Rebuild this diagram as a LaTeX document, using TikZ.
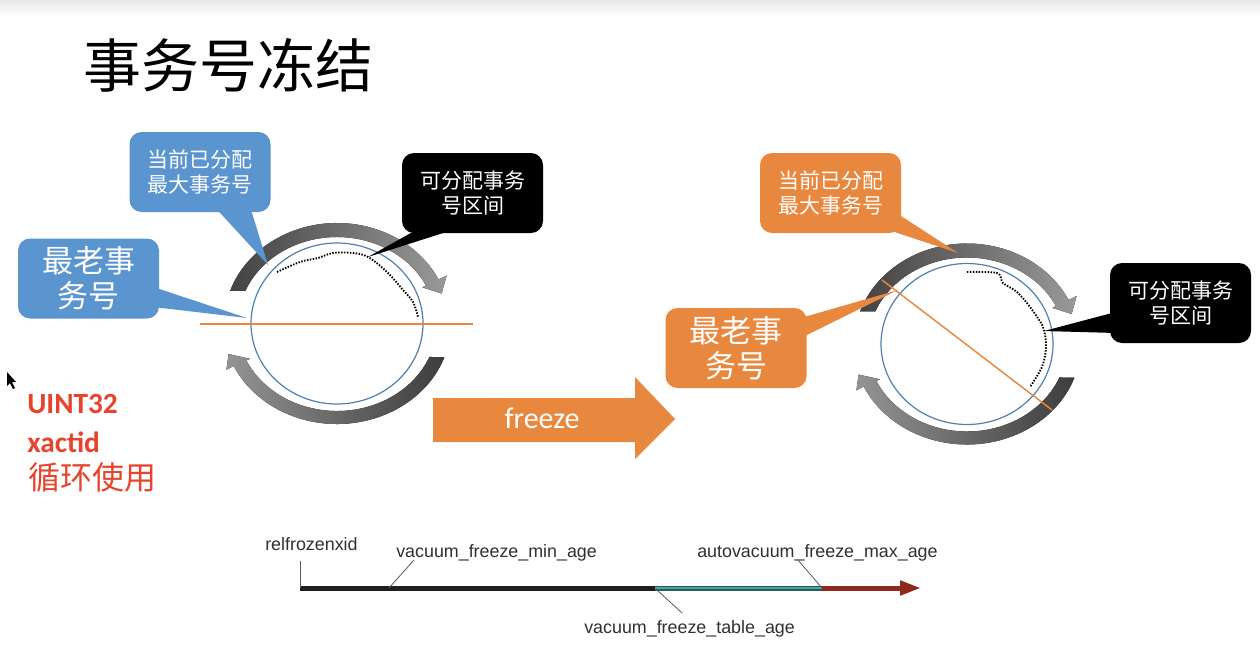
\documentclass[tikz,border=0pt]{standalone}
\usepackage{fontspec}
\setmainfont{Liberation Sans}
\newfontfamily\cjkfont{Noto Sans CJK SC}
\newfontfamily\calibfont{Carlito}
\usetikzlibrary{calc,arrows.meta}

\definecolor{boxblue}{HTML}{5B95CF}
\definecolor{boxorange}{HTML}{E8873E}
\definecolor{ringblue}{HTML}{4F80B0}
\definecolor{alertred}{HTML}{E8442D}
\definecolor{tealbar}{HTML}{4AA3A6}
\definecolor{rustbar}{HTML}{8E2A1A}
\definecolor{labelgray}{HTML}{303030}

\tikzset{
  callbox/.style={rounded corners=9pt, minimum width=105.75pt, minimum height=60pt,
    inner sep=0pt, text=white, align=center},
  smalltext/.style={font=\cjkfont\fontsize{15.75pt}{18.75pt}\selectfont},
  bigtext/.style={font=\cjkfont\fontsize{23.25pt}{26.25pt}\selectfont},
  ring/.style={draw=ringblue, line width=0.9pt},
  cutline/.style={draw=boxorange, line width=1.1pt},
  freespan/.style={line width=1.4pt, dash pattern=on 1.1pt off 1.1pt},
  axislabel/.style={font=\fontsize{13.4pt}{16pt}\selectfont, text=labelgray,
    inner sep=0pt, anchor=base west},
  leader/.style={draw=labelgray!80, line width=0.6pt},
  alertbold/.style={font=\calibfont\bfseries\fontsize{22pt}{24pt}\selectfont,
    text=alertred, inner sep=0pt, anchor=base west},
}

% the two curved grey arrows around a wheel (drawn with y pointing up)
\newcommand\cyclearrows{%
  \fill[left color=black!74, right color=black!40]
    (161:113 and 100.5) arc[start angle=161, end angle=26, x radius=113, y radius=100.5]
    -- (26:122 and 109.5) -- (18:110 and 97) -- (26:95 and 82.5) -- (26:99 and 86.5)
    arc[start angle=26, end angle=157.8, x radius=99, y radius=86.5] -- cycle;
  \fill[left color=black!42, right color=black!76]
    (-19.5:114 and 100.5) arc[start angle=-19.5, end angle=-155, x radius=114, y radius=100.5]
    -- (-155:122 and 109.5) -- (-162:114 and 99) -- (-155:96 and 83.5) -- (-155:100 and 87.5)
    arc[start angle=-155, end angle=-22.5, x radius=100, y radius=87.5] -- cycle;
}

\begin{document}
\begin{tikzpicture}[x=0.75pt, y=-0.75pt]
\useasboundingbox (0,0) rectangle (1260,668);
\fill[white] (0,0) rectangle (1260,668);
\shade[top color=black!9, bottom color=white] (0,0) rectangle (1260,16);

% title
\node[font=\cjkfont\fontsize{43.5pt}{50pt}\selectfont, inner sep=0pt] (title) at (228,65) {事务号冻结};

% ---------- left wheel ----------
\coordinate (lc) at (337,323.5);
\begin{scope}[shift={(lc)}, y=0.75pt]
  \cyclearrows
\end{scope}
\draw[ring] (lc) ellipse[x radius=86, y radius=80.5];
\coordinate (lcutA) at (200,324);
\coordinate (lcutB) at (473,324);
\draw[cutline] (lcutA) -- (lcutB);
\draw[freespan] plot[smooth, tension=0.6] coordinates
  {(277,272) (300,262) (318,258) (333,253) (353,253) (368,257) (387,272) (403,290) (413,302) (418,317)};

% callouts of the left wheel
\node[callbox, fill=boxblue, smalltext] (lmax) at (200,172) {当前已分配\\最大事务号};
\coordinate (lmaxTip) at (268,265);
\fill[boxblue] ($(lmax.south)+(14,-6)$) -- (lmaxTip) -- ($(lmax.south)+(50,-6)$) -- cycle;

\node[callbox, fill=boxblue, bigtext] (lold) at (88.5,278.5) {最老事\\务号};
\coordinate (loldTip) at (247,318);
\fill[boxblue] ($(lold.east)+(-6,8.5)$) -- (loldTip) -- ($(lold.east)+(-6,28.5)$) -- cycle;

\node[callbox, fill=black, smalltext] (lfree) at (472.5,193) {可分配事务\\号区间};
\coordinate (lfreeTip) at (368,257);
\fill[black] ($(lfree.south)+(-51.5,-6)$) -- (lfreeTip) -- ($(lfree.south)+(-11.5,-6)$) -- cycle;

% ---------- left notes ----------
\node[alertbold] (uint) at (27,413) {UINT32};
\node[alertbold] (xact) at (27,452) {xactid};
\node[font=\cjkfont\fontsize{24pt}{28pt}\selectfont, text=alertred, inner sep=0pt, anchor=base west] (reuse) at (28,489) {循环使用};

% pointer
\fill[black] (7,372) -- (7,386) -- (10,383) -- (13,389) -- (15,388) -- (12,382) -- (16,382) -- cycle;

% ---------- freeze arrow ----------
\fill[boxorange] (433,398) -- (635,398) -- (635,377) -- (675,419) -- (635,459) -- (635,442) -- (433,442) -- cycle;
\node[font=\calibfont\fontsize{22.5pt}{26pt}\selectfont, text=white, inner sep=0pt] (freeze) at (542,418) {freeze};

% ---------- right wheel ----------
\coordinate (rc) at (967,344);
\begin{scope}[shift={(rc)}, y=0.75pt]
  \cyclearrows
\end{scope}
\draw[ring] (rc) ellipse[x radius=86, y radius=80.5];
\coordinate (rcutA) at (882,280);
\coordinate (rcutB) at (1052,410);
\draw[cutline] (rcutA) -- (rcutB);
\draw[freespan] plot[smooth, tension=0.5] coordinates
  {(967,272) (997,273) (1003,283) (1017,292) (1030,307) (1043,327) (1046,347) (1042,367) (1030,387)};

\node[callbox, fill=boxorange, smalltext] (rmax) at (830.5,193) {当前已分配\\最大事务号};
\coordinate (rmaxTip) at (958,253);
\fill[boxorange] ($(rmax.south east)+(-21,-6)$) -- (rmaxTip) -- ($(rmax.south east)+(-6,-21)$) -- cycle;

\node[callbox, fill=boxorange, bigtext] (rold) at (736,348) {最老事\\务号};
\coordinate (roldTip) at (898,290);
\fill[boxorange] ($(rold.east)+(-6,-30)$) -- (roldTip) -- ($(rold.east)+(-6,-10)$) -- cycle;

\node[callbox, fill=black, smalltext] (rfree) at (1180.5,303) {可分配事务\\号区间};
\coordinate (rfreeTip) at (1044,331);
\fill[black] ($(rfree.west)+(6,9)$) -- (rfreeTip) -- ($(rfree.west)+(6,30)$) -- cycle;

% ---------- age axis ----------
\coordinate (t0) at (300,588);
\coordinate (t1) at (655,588);
\coordinate (t2) at (822,588);
\coordinate (t3) at (921,588);
\draw[line width=3.75pt, black!88] (t0) -- (t1);
\draw[line width=3.75pt, tealbar!55!black] (t1) -- (t2);
\draw[line width=2.2pt, tealbar] (t1) -- (t2);
\draw[line width=3.75pt, rustbar, -{Triangle[length=15.75pt, width=10.5pt]}] (t2) -- (t3);

\node[axislabel] (relfrozen) at (265,550) {relfrozenxid};
\node[axislabel] (minage) at (396,557) {vacuum\_freeze\_min\_age};
\node[axislabel] (maxage) at (697,557) {autovacuum\_freeze\_max\_age};
\node[axislabel] (tableage) at (584,633) {vacuum\_freeze\_table\_age};

\coordinate (relTop) at (300,561);
\coordinate (minTop) at (414,560);
\coordinate (minFoot) at (389,588);
\coordinate (maxTop) at (798,560);
\coordinate (tabTop) at (657,590);
\coordinate (tabFoot) at (682,613);
\draw[leader] (relTop) -- (t0);
\draw[leader] (minTop) -- (minFoot);
\draw[leader] (maxTop) -- (t2);
\draw[leader] (tabTop) -- (tabFoot);
\end{tikzpicture}
\end{document}
